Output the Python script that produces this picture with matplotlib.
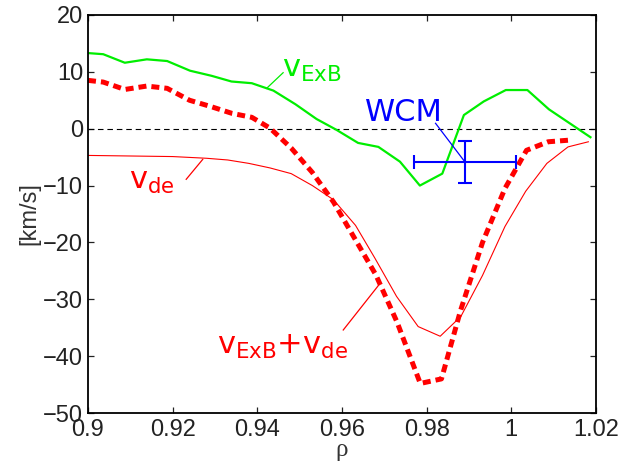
import matplotlib
matplotlib.use("Agg")
import matplotlib.pyplot as plt

# v_ExB (green)
rho_exb = [0.9000, 0.9036, 0.9087, 0.9139, 0.9187, 0.9241, 0.9292, 0.9339,
           0.9387, 0.9438, 0.9490, 0.9540, 0.9587, 0.9638, 0.9686, 0.9737,
           0.9784, 0.9837, 0.9888, 0.9935, 0.9987, 1.0038, 1.0089, 1.0139,
           1.0187]
v_exb = [13.3, 13.1, 11.6, 12.2, 11.9, 10.2, 9.3, 8.3,
         8.0, 6.7, 4.3, 1.7, -0.2, -2.5, -3.2, -5.8,
         -10.0, -7.9, 2.4, 4.8, 6.8, 6.8, 3.4, 0.9,
         -1.5]

# v_de (thin red)
rho_de = [0.9000, 0.9100, 0.9200, 0.9280, 0.9330, 0.9380, 0.9430, 0.9480,
          0.9530, 0.9580, 0.9632, 0.9678, 0.9729, 0.9780, 0.9832, 0.9881,
          0.9932, 0.9985, 1.0034, 1.0084, 1.0134, 1.0182]
v_de = [-4.7, -4.8, -4.9, -5.2, -5.5, -6.1, -6.9, -7.9,
        -10.0, -12.5, -17.0, -22.8, -29.5, -34.8, -36.5, -33.0,
        -25.8, -17.2, -11.0, -6.1, -3.2, -2.3]

# v_ExB + v_de (thick dashed red)
rho_sum = [0.9000, 0.9036, 0.9087, 0.9139, 0.9187, 0.9240, 0.9290, 0.9340,
           0.9387, 0.9430, 0.9480, 0.9530, 0.9580, 0.9630, 0.9680, 0.9730,
           0.9785, 0.9835, 0.9880, 0.9932, 0.9985, 1.0036, 1.0087, 1.0139]
v_sum = [8.5, 8.2, 6.9, 7.5, 7.1, 5.0, 3.9, 2.7,
         2.0, 0.1, -3.4, -7.7, -12.9, -19.3, -25.7, -34.0,
         -44.8, -44.0, -32.0, -20.0, -10.5, -3.8, -2.3, -2.0]

# WCM location with error bars
wcm_rho = 0.989
wcm_v = -5.8
wcm_rho_err = 0.012
wcm_v_err = 3.7

xticks = [0.9, 0.92, 0.94, 0.96, 0.98, 1.0, 1.02]
xticklabels = ["0.9", "0.92", "0.94", "0.96", "0.98", "1", "1.02"]
yticks = [-50, -40, -30, -20, -10, 0, 10, 20]
yticklabels = ["\u221250", "\u221240", "\u221230", "\u221220", "\u221210", "0", "10", "20"]

green = "#00ee00"
red = "#ff0000"
blue = "#0000ff"


def main():
    fig = plt.figure(figsize=(6.33, 4.68), dpi=100)
    ax = fig.add_axes([0.139, 0.1175, 0.8025, 0.8505])

    ax.axhline(0, color="k", lw=0.8, dashes=(5, 3.5))

    ax.plot(rho_exb, v_exb, color=green, lw=1.6)
    ax.plot(rho_de, v_de, color=red, lw=0.8)
    line, = ax.plot(rho_sum, v_sum, color=red, lw=3.6)
    line.set_dashes((1.6, 1.0))

    ax.errorbar(wcm_rho, wcm_v, xerr=wcm_rho_err, yerr=wcm_v_err,
                color=blue, lw=1.5, capsize=5, capthick=1.5)

    # labels with leader lines
    ax.plot([0.9422, 0.9461], [7.1, 9.85], color=green, lw=0.9)
    ax.text(0.9458, 13.0, r"$\mathregular{v_{ExB}}$", color=green,
            fontsize=22, ha="left", va="top", family="DejaVu Sans")

    ax.plot([0.9232, 0.9271], [-8.9, -5.4], color=red, lw=0.9)
    ax.text(0.9097, -6.8, r"$\mathregular{v_{de}}$", color=red,
            fontsize=22, ha="left", va="top", family="DejaVu Sans")

    ax.plot([0.9603, 0.9690], [-35.4, -27.2], color=red, lw=0.9)
    ax.text(0.9305, -35.8, r"$\mathregular{v_{ExB}{+}v_{de}}$", color=red,
            fontsize=22, ha="left", va="top", family="DejaVu Sans")

    ax.plot([0.9821, wcm_rho], [0.95, wcm_v], color=blue, lw=0.9)
    ax.text(0.9655, 1.3, "WCM", color=blue, fontsize=22,
            ha="left", va="baseline", family="DejaVu Sans")

    ax.set_xlim(0.9, 1.02)
    ax.set_ylim(-50, 20)
    ax.set_xticks(xticks)
    ax.set_xticklabels(xticklabels)
    ax.set_yticks(yticks)
    ax.set_yticklabels(yticklabels)

    ax.tick_params(direction="in", length=4, width=0.9, top=True, right=True,
                   labelsize=17, colors="#222222")
    ax.tick_params(axis="x", pad=4)
    ax.tick_params(axis="y", pad=3.5)
    for lab in ax.get_xticklabels() + ax.get_yticklabels():
        lab.set_family("Liberation Sans")
        lab.set_color("#222222")
    for sp in ax.spines.values():
        sp.set_linewidth(1.3)

    ax.set_xlabel("\u03c1", fontsize=18, family="Liberation Serif",
                  color="#333333", labelpad=-1)
    ax.set_ylabel("[km/s]", fontsize=17, family="Liberation Sans",
                  color="#333333", labelpad=2)

    fig.savefig("out.png", dpi=100)


if __name__ == "__main__":
    main()
